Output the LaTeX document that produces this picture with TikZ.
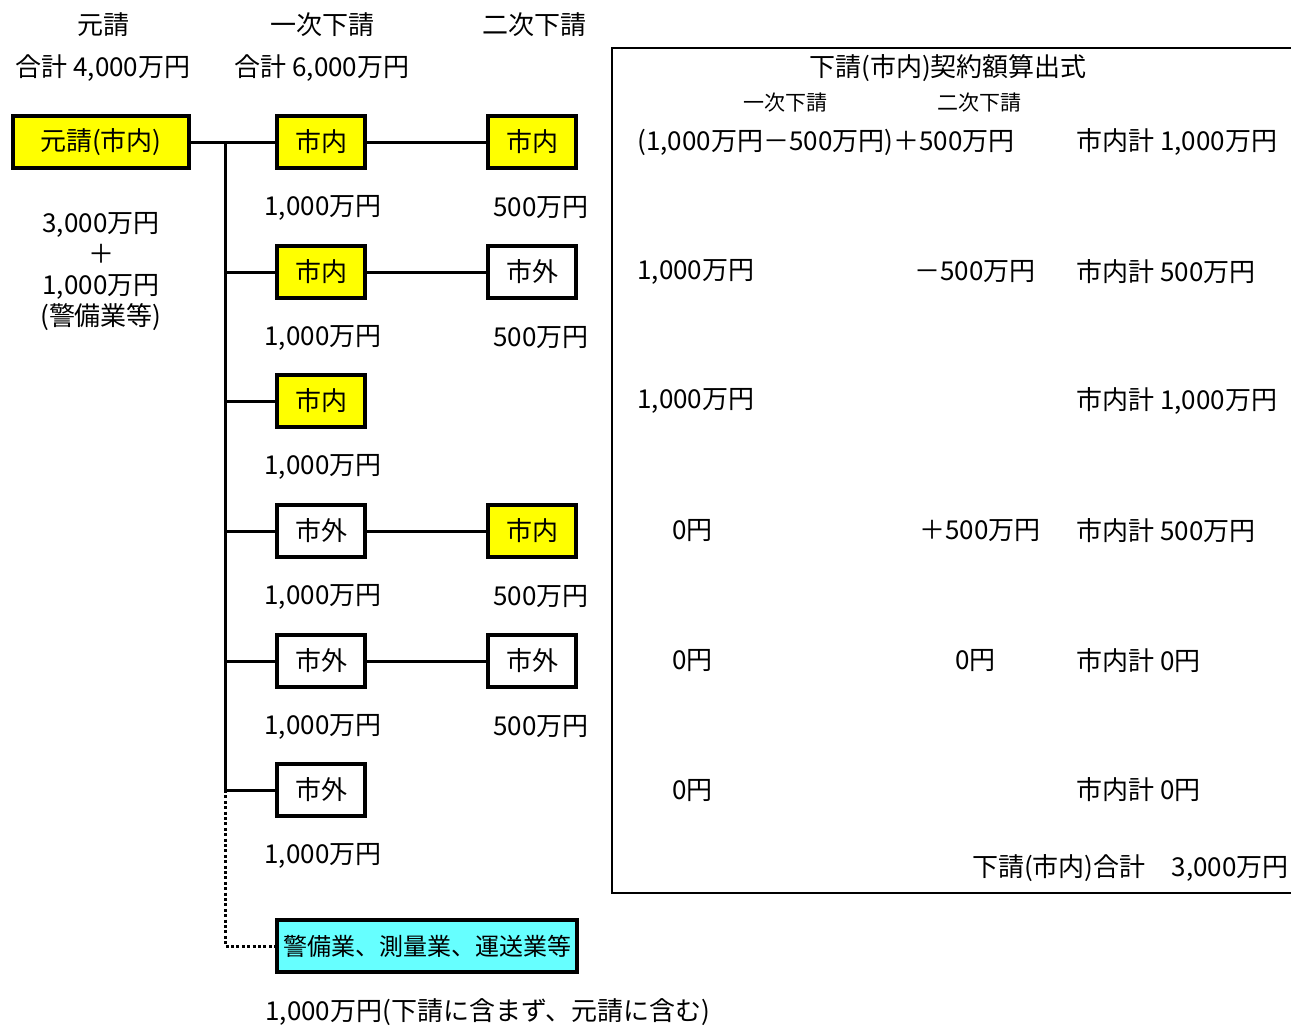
\documentclass[tikz,border=0pt]{standalone}
\usepackage{fontspec}
\setmainfont{Noto Sans CJK JP}
\usetikzlibrary{positioning,calc}
\definecolor{shinaiyellow}{RGB}{255,255,0}
\definecolor{keibicyan}{RGB}{102,255,255}
\tikzset{
    firm/.style={rectangle, draw, line width=1.9pt, minimum width=44pt, minimum height=26pt, inner sep=0pt},
    inside/.style={firm, fill=shinaiyellow},
    outside/.style={firm, fill=white},
    link/.style={draw, line width=1.5pt},
    dotlink/.style={draw, line width=1.5pt, dash pattern=on 1.5pt off 1.2pt},
    amount/.style={inner sep=0pt},
    formula/.style={anchor=west, inner sep=0pt}
}

\begin{document}
\begin{tikzpicture}[x=0.5pt, y=-0.5pt, font=\fontsize{13}{15}\selectfont]
    \useasboundingbox (0,0) rectangle (1291,1025);

    % Column headers
    \node [amount] (hmoto) at (103,25) {元請};
    \node [amount] (hmotosum) at (103,68) {合計 4,000万円};
    \node [amount] (hichiji) at (322,25) {一次下請};
    \node [amount] (hichijisum) at (322,68) {合計 6,000万円};
    \node [amount] (hniji) at (534,25) {二次下請};

    % Prime contractor
    \node [inside, minimum width=88pt] (moto) at (101,142) {元請(市内)};
    \node [amount, align=center, font=\fontsize{13}{15.5}\selectfont] (motoamt) at (101,271) {3,000万円\\＋\\1,000万円\\(警備業等)};

    % First tier subcontractors
    \node [inside] (ichiA) at (321,142) {市内};
    \node [inside] (ichiB) at (321,272) {市内};
    \node [inside] (ichiC) at (321,401) {市内};
    \node [outside] (ichiD) at (321,531) {市外};
    \node [outside] (ichiE) at (321,661) {市外};
    \node [outside] (ichiF) at (321,790) {市外};

    % Second tier subcontractors
    \node [inside] (niA) at (532,142) {市内};
    \node [outside] (niB) at (532,272) {市外};
    \node [inside] (niD) at (532,531) {市内};
    \node [outside] (niE) at (532,661) {市外};

    % Security, survey, transport
    \node [firm, fill=keibicyan, minimum width=150pt, font=\fontsize{12}{14}\selectfont] (keibi) at (427,946) {警備業、測量業、運送業等};

    % Amounts
    \node [amount] at ([shift={(1pt,-33pt)}]ichiA) {1,000万円};
    \node [amount] at ([shift={(1pt,-33pt)}]ichiB) {1,000万円};
    \node [amount] at ([shift={(1pt,-33pt)}]ichiC) {1,000万円};
    \node [amount] at ([shift={(1pt,-33pt)}]ichiD) {1,000万円};
    \node [amount] at ([shift={(1pt,-33pt)}]ichiE) {1,000万円};
    \node [amount] at ([shift={(1pt,-33pt)}]ichiF) {1,000万円};
    \node [amount] at ([shift={(4.5pt,-33pt)}]niA) {500万円};
    \node [amount] at ([shift={(4.5pt,-33pt)}]niB) {500万円};
    \node [amount] at ([shift={(4.5pt,-33pt)}]niD) {500万円};
    \node [amount] at ([shift={(4.5pt,-33pt)}]niE) {500万円};
    \node [formula] (keibiamt) at (265,1012) {1,000万円(下請に含まず、元請に含む)};

    % Connections
    \coordinate (trunktop) at (225,142);
    \coordinate (trunkbot) at (225,790);
    \path [link] (moto.east) -- (ichiA.west);
    \path [link] (trunktop) -- (trunkbot);
    \path [link] (trunktop |- ichiB) -- (ichiB.west);
    \path [link] (trunktop |- ichiC) -- (ichiC.west);
    \path [link] (trunktop |- ichiD) -- (ichiD.west);
    \path [link] (trunktop |- ichiE) -- (ichiE.west);
    \path [link] (trunkbot) -- (ichiF.west);
    \path [link] (ichiA) -- (niA);
    \path [link] (ichiB) -- (niB);
    \path [link] (ichiD) -- (niD);
    \path [link] (ichiE) -- (niE);
    \path [dotlink] (trunkbot) |- (keibi.west);

    % Calculation frame
    \draw [line width=0.8pt] (1292,48) -- (612,48) -- (612,893) -- (1292,893);
    \node [amount] (ftitle) at (948,68) {下請(市内)契約額算出式};
    \node [amount, font=\fontsize{10.5}{12}\selectfont] (fichiji) at (785,103) {一次下請};
    \node [amount, font=\fontsize{10.5}{12}\selectfont] (fniji) at (979,103) {二次下請};

    \node [formula] (fA1) at (637,142) {(1,000万円－500万円)＋500万円};
    \node [formula] (fA3) at (1076,142) {市内計 1,000万円};
    \node [formula] (fB1) at (637,272) {1,000万円};
    \node [formula] (fB2) at (914,272) {－500万円};
    \node [formula] (fB3) at (1076,272) {市内計 500万円};
    \node [formula] (fC1) at (637,401) {1,000万円};
    \node [formula] (fC3) at (1076,401) {市内計 1,000万円};
    \node [formula] (fD1) at (672,531) {0円};
    \node [formula] (fD2) at (919,531) {＋500万円};
    \node [formula] (fD3) at (1076,531) {市内計 500万円};
    \node [formula] (fE1) at (672,661) {0円};
    \node [formula] (fE2) at (955,661) {0円};
    \node [formula] (fE3) at (1076,661) {市内計 0円};
    \node [formula] (fF1) at (672,790) {0円};
    \node [formula] (fF3) at (1076,790) {市内計 0円};
    \node [amount, anchor=east] (ftotal) at (1289,868) {下請(市内)合計　3,000万円};
\end{tikzpicture}
\end{document}
